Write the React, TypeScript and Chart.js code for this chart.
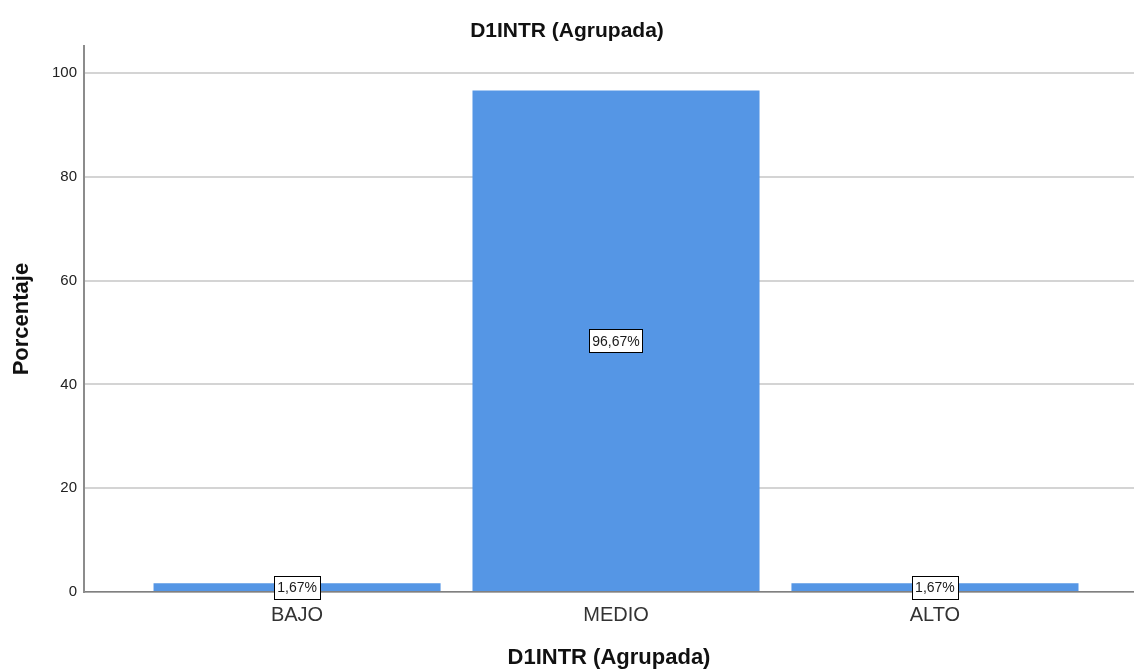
import React, { useEffect, useRef } from "react";
import { Chart, registerables } from "chart.js";

Chart.register(...registerables);

const categories: string[] = ["BAJO", "MEDIO", "ALTO"];
const percentages: number[] = [1.67, 96.67, 1.67];
const yTickValues: number[] = [0, 20, 40, 60, 80, 100];
const chartTitle = "D1INTR (Agrupada)";
const xAxisTitle = "D1INTR (Agrupada)";
const yAxisTitle = "Porcentaje";

const FONT = "Arial, 'Liberation Sans', sans-serif";

const labelPlugin = {
  id: "boxLabels",
  afterDatasetsDraw(chart: any) {
    const ctx = chart.ctx;
    const meta = chart.getDatasetMeta(0);
    ctx.save();
    ctx.font = `14px ${FONT}`;
    ctx.textAlign = "center";
    ctx.textBaseline = "middle";
    meta.data.forEach((el: any, i: number) => {
      const v = percentages[i];
      const text = v.toFixed(2).replace(".", ",") + "%";
      const cx = el.x;
      const cy = (el.y + el.base) / 2;
      const w = ctx.measureText(text).width + 6;
      const h = 23;
      ctx.fillStyle = "#ffffff";
      ctx.fillRect(Math.round(cx - w / 2) + 0.5, Math.round(cy - h / 2) + 0.5, Math.round(w), h);
      ctx.strokeStyle = "#000000";
      ctx.lineWidth = 1;
      ctx.strokeRect(Math.round(cx - w / 2) + 0.5, Math.round(cy - h / 2) + 0.5, Math.round(w), h);
      ctx.fillStyle = "#1a1a1a";
      ctx.fillText(text, cx, cy + 1);
    });
    ctx.restore();
  },
};

export default function App() {
  const ref = useRef<HTMLCanvasElement>(null);

  useEffect(() => {
    if (!ref.current) return;
    const chart = new Chart(ref.current, {
      type: "bar",
      data: {
        datasets: [
          {
            data: percentages.map((v, i) => ({ x: i, y: v })),
            backgroundColor: "#5596e5",
            borderWidth: 0,
            categoryPercentage: 1,
            barPercentage: 0.9,
          },
        ],
      },
      plugins: [labelPlugin],
      options: {
        responsive: false,
        animation: false,
        layout: { padding: 0 },
        plugins: {
          legend: { display: false },
          tooltip: { enabled: false },
          title: {
            display: true,
            text: chartTitle,
            color: "#111",
            font: { family: FONT, size: 21, weight: "bold" },
            padding: { top: 19, bottom: 2 },
          },
        },
        scales: {
          x: {
            type: "linear",
            offset: false,
            min: -0.668,
            max: 2.624,
            afterBuildTicks: (s: any) => {
              s.ticks = s.ticks.filter((t: any) => Number.isInteger(t.value) && t.value >= 0 && t.value < categories.length);
            },
            afterFit: (s: any) => {
              s.height = 79;
            },
            ticks: {
              stepSize: 1,
              autoSkip: false,
              maxRotation: 0,
              padding: 11,
              color: "#333",
              font: { family: FONT, size: 20 },
              callback: (v: any) => categories[v] ?? "",
            },
            grid: { display: false, drawTicks: false, offset: false },
            border: { display: true, color: "#808080", width: 1.5 },
            title: {
              display: true,
              text: xAxisTitle,
              color: "#111",
              font: { family: FONT, size: 22, weight: "bold" },
              padding: { top: 0, bottom: 0 },
            },
          },
          y: {
            min: 0,
            max: 105.2,
            afterBuildTicks: (s: any) => {
              s.ticks = yTickValues.map((v) => ({ value: v }));
            },
            afterFit: (s: any) => {
              s.width = 84;
            },
            ticks: {
              stepSize: 20,
              padding: 7,
              color: "#222",
              font: { family: FONT, size: 15 },
            },
            grid: { color: "#d4d4d4", lineWidth: 2, drawTicks: false },
            border: { display: true, color: "#8c8c8c", width: 2 },
            title: {
              display: true,
              text: yAxisTitle,
              color: "#111",
              font: { family: FONT, size: 22, weight: "bold" },
              padding: { top: 9, bottom: 0 },
            },
          },
        },
      },
    });
    return () => chart.destroy();
  }, []);

  return (
    <div style={{ position: "fixed", left: 0, top: 0, width: 1134, height: 671, background: "#fff" }}>
      <canvas ref={ref} width={1134} height={671} />
    </div>
  );
}
